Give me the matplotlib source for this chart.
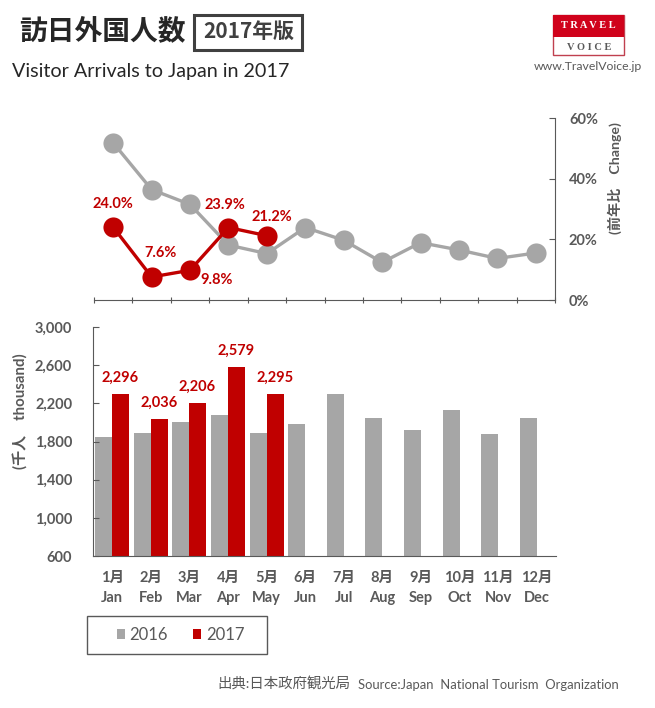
import matplotlib.pyplot as plt
from matplotlib.patches import Rectangle

plt.rcParams['font.family'] = ['Lato', 'Noto Sans CJK JP', 'DejaVu Sans']

months_ja = ['1月', '2月', '3月', '4月', '5月', '6月', '7月', '8月', '9月', '10月', '11月', '12月']
months_en = ['Jan', 'Feb', 'Mar', 'Apr', 'May', 'Jun', 'Jul', 'Aug', 'Sep', 'Oct', 'Nov', 'Dec']
change_2016 = [51.8, 36.4, 31.5, 18.1, 15.3, 23.9, 19.7, 12.4, 18.9, 16.5, 13.7, 15.5]
change_2017 = [24.0, 7.6, 9.8, 23.9, 21.2]
arrivals_2016 = [1852, 1891, 2009, 2082, 1893, 1986, 2297, 2050, 1918, 2135, 1875, 2050]
arrivals_2017 = [2296, 2036, 2206, 2579, 2295]
change_labels = ['24.0%', '7.6%', '9.8%', '23.9%', '21.2%']
arrival_labels = ['2,296', '2,036', '2,206', '2,579', '2,295']
yticks_top = [0, 20, 40, 60]
yticks_bottom = [600, 1000, 1400, 1800, 2200, 2600, 3000]

W, H = 655, 708
GRAY = '#A6A6A6'
RED = '#C00000'
DARK = '#595959'

fig = plt.figure(figsize = (W / 100, H / 100), dpi = 100)

# axes in pixels of the picture
ax1 = fig.add_axes([94 / W, 1 - 300 / H, 461 / W, 182 / H])
ax2 = fig.add_axes([93 / W, 1 - 556 / H, 463 / W, 229 / H])

# top: year on year change
x = list(range(12))
ax1.plot(x, change_2016, color = GRAY, lw = 2.4, marker = 'o', ms = 14.5, mew = 0)
ax1.plot(x[:5], change_2017, color = RED, lw = 2.4, marker = 'o', ms = 14.5, mew = 0)
ax1.set_xlim(-0.5, 11.5)
ax1.set_ylim(0, 60)
ax1.set_xticks([i - 0.5 for i in range(13)])
ax1.set_xticklabels([])
ax1.set_yticks(yticks_top)
ax1.set_yticklabels([f'{v}%' for v in yticks_top], fontsize = 10.5, fontweight = 'bold', color = DARK)
ax1.yaxis.tick_right()
ax1.tick_params(axis = 'y', direction = 'in', length = 4, color = DARK, pad = 10, right = True)
ax1.tick_params(axis = 'x', direction = 'inout', length = 5, color = DARK)
ax1.spines['top'].set_visible(False)
ax1.spines['left'].set_visible(False)
ax1.spines['right'].set_color(DARK)
ax1.spines['bottom'].set_color(DARK)
ax1.patch.set_alpha(0)

offsets = [(0, 23), (9, 24), (27, -10), (-4, 23), (5, 19)]
for i, label in enumerate(change_labels):
    ax1.annotate(label, (x[i], change_2017[i]), xytext = offsets[i], textcoords = 'offset pixels',
                 ha = 'center', va = 'center', fontsize = 10.5, fontweight = 'bold', color = RED)

# bottom: arrivals
ax2.bar([i - 0.22 for i in x], arrivals_2016, width = 0.44, color = GRAY, label = '2016')
ax2.bar([i + 0.22 for i in x[:5]], arrivals_2017, width = 0.44, color = RED, label = '2017')
ax2.set_xlim(-0.5, 11.5)
ax2.set_ylim(600, 3000)
ax2.set_yticks(yticks_bottom)
ax2.set_yticklabels([f'{v:,}' for v in yticks_bottom], fontsize = 10.5, fontweight = 'bold', color = DARK)
ax2.set_xticks(x)
ax2.set_xticklabels([f'{a}\n{b}' for a, b in zip(months_ja, months_en)], fontsize = 10.5, fontweight = 'bold', color = DARK, linespacing = 1.55)
ax2.tick_params(axis = 'y', direction = 'in', length = 4, color = DARK, pad = 15)
ax2.tick_params(axis = 'x', length = 0, pad = 11)
ax2.spines['top'].set_visible(False)
ax2.spines['right'].set_visible(False)
ax2.spines['left'].set_color(DARK)
ax2.spines['bottom'].set_color(DARK)

for i, label in enumerate(arrival_labels):
    ax2.annotate(label, (x[i], arrivals_2017[i]), xytext = (8, 16), textcoords = 'offset pixels',
                 ha = 'center', va = 'center', fontsize = 10.5, fontweight = 'bold', color = RED)

# legend, the frame is drawn by hand
fig.add_artist(Rectangle((87 / W, 1 - 654 / H), 180 / W, 38 / H, transform = fig.transFigure, fc = 'none', ec = DARK, lw = 1))
leg = ax2.legend(ncol = 2, loc = 'center', bbox_to_anchor = (180.5 / W, 1 - 635 / H),
                 bbox_transform = fig.transFigure, fontsize = 12, frameon = False,
                 handlelength = 0.48, handleheight = 0.48, handletextpad = 0.3,
                 columnspacing = 1.5, borderpad = 0, borderaxespad = 0)
for t in leg.get_texts():
    t.set_color(DARK)

# header
fig.text(19 / W, 1 - 31 / H, '訪日外国人数', fontsize = 20, fontweight = 'bold', color = '#262626',
         family = ['Noto Sans CJK JP'], va = 'center', ha = 'left')
fig.text(249 / W, 1 - 31 / H, '2017年版', fontsize = 15, fontweight = 'bold', color = '#404040',
         family = ['Noto Sans CJK JP'], va = 'center', ha = 'center')
fig.add_artist(Rectangle((194 / W, 1 - 50 / H), 108 / W, 35 / H, transform = fig.transFigure,
                         fc = 'none', ec = '#404040', lw = 2.2))
fig.text(12 / W, 1 - 71 / H, 'Visitor Arrivals to Japan in 2017', fontsize = 14.2, color = '#262626', va = 'center')

# logo
fig.add_artist(Rectangle((553 / W, 1 - 55 / H), 71 / W, 40 / H, transform = fig.transFigure, fc = 'white', ec = '#C0404F', lw = 1))
fig.add_artist(Rectangle((553 / W, 1 - 37 / H), 71 / W, 22 / H, transform = fig.transFigure, fc = '#D0021B', ec = 'none'))
fig.text(588.5 / W, 1 - 26 / H, 'T R A V E L', fontsize = 7.5, fontweight = 'bold', color = 'white', family = ['Liberation Serif'], ha = 'center', va = 'center')
fig.text(589 / W, 1 - 47 / H, 'V O I C E', fontsize = 7.5, fontweight = 'bold', color = '#595959', family = ['Liberation Serif'], ha = 'center', va = 'center')
fig.text(588 / W, 1 - 67 / H, 'www.TravelVoice.jp', fontsize = 8.8, color = DARK, ha = 'center', va = 'center')

fig.text(21 / W, 1 - 411 / H, '(千人　thousand)', fontsize = 10.8, fontweight = 'bold', color = DARK, rotation = 90, ha = 'center', va = 'center')
fig.text(615 / W, 1 - 178.5 / H, '(前年比　Change)', fontsize = 10.2, fontweight = 'bold', color = DARK, rotation = 90, ha = 'center', va = 'center')
fig.text(217 / W, 1 - 684 / H, '出典:日本政府観光局', fontsize = 10.4, color = DARK, va = 'center')
fig.text(358 / W, 1 - 685 / H, 'Source:Japan  National Tourism  Organization', fontsize = 9.4, color = DARK, va = 'center')

fig.savefig('out.png', dpi = 100)
